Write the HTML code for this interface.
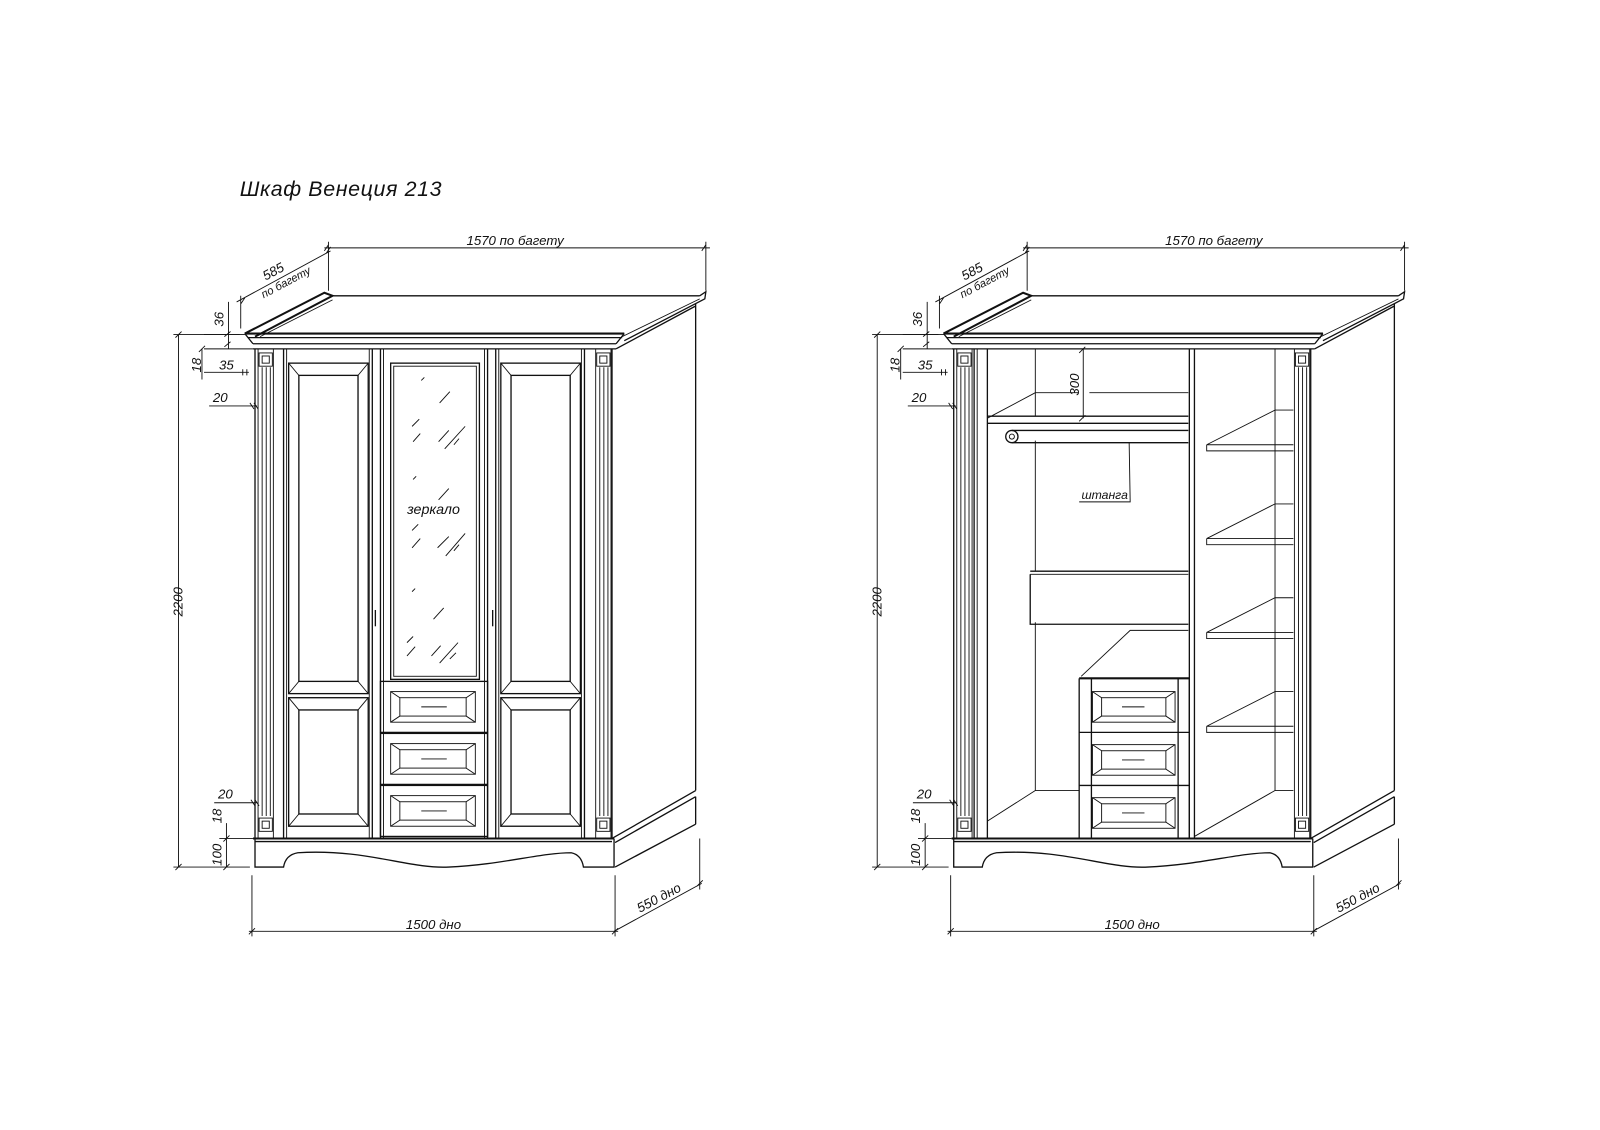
<!DOCTYPE html>
<html><head><meta charset="utf-8"><style>
html,body{margin:0;padding:0;background:#fff;}
svg{display:block;}
text{font-family:"Liberation Sans","DejaVu Sans",sans-serif;font-style:italic;fill:#111;}
.l{stroke:#111;stroke-width:1.3;fill:none;}
.t{stroke:#111;stroke-width:0.9;fill:none;}
.b{stroke:#111;stroke-width:2;fill:none;}
</style></head><body>
<svg width="1600" height="1130" viewBox="0 0 1568.6 1107.8" preserveAspectRatio="none" xmlns="http://www.w3.org/2000/svg">
<defs>
<g id="shell">
  <path class="b" d="M240,327 L318,287 L326,290 L250,330"/>
  <path class="l" d="M326,290 L686,290 M686,290 L692,286 L691,293 L612,334"/>
  <path class="t" d="M255,330 L326,294 M610,330 L686,293"/>
  <path class="b" d="M240,327 H612"/>
  <path class="l" d="M243,331 H610 M248,337 H604 M248,342 H604 M240,327 L248,337 M612,327 L604,337"/>
  <path class="l" d="M604,342 L682,300 M682,298 V775 M600,822 L682,775 M603,826 L682,781 M603,850 L682,808 M682,781 V808"/>
  <path class="l" d="M250,342 V822 M600,342 V822"/>
  <path class="t" d="M253,342 V822 M257,360 V800 M261,360 V800 M265,360 V800 M268,342 V822"/>
  <path class="t" d="M584,342 V822 M588,360 V800 M592,360 V800 M596,360 V800 M599,342 V822"/>
  <rect class="t" x="254" y="346" width="13" height="13"/><rect class="t" x="257" y="349" width="7" height="7"/>
  <rect class="t" x="585" y="346" width="13" height="13"/><rect class="t" x="588" y="349" width="7" height="7"/>
  <rect class="t" x="254" y="802" width="13" height="13"/><rect class="t" x="257" y="805" width="7" height="7"/>
  <rect class="t" x="585" y="802" width="13" height="13"/><rect class="t" x="588" y="805" width="7" height="7"/>
  <path class="b" d="M248,822 H602"/>
  <path class="l" d="M250,825 H600 M250,822 V850 H278 Q280,838 292,836 C360,832 400,852 440,850 C490,848 530,836 560,836 Q570,838 572,850 H602 V822"/>
  <path class="t" d="M322,285 V237 M692,285 V237 M318,243 H696 M322,240 L318,246 M692,240 L688,246"/>
  <path class="t" d="M236,322 V290 M232,296 L324,246 M236,298 L240,292 M320,248 L324,242"/>
  <path class="t" d="M200,328 H240 M200,342 H248 M224,296 V342 M220,330 L226,325 M220,340 L226,335"/>
  <path class="t" d="M170,328 H235 M175,328 V850 M170,850 H245 M172,331 L178,325 M172,853 L178,847"/>
  <path class="t" d="M198,342 V372 M195,345 L201,339 M200,365 H244 M238,362 V368 M242,362 V368"/>
  <path class="t" d="M205,398 H252 M245,395 L249,401 M249,395 L253,401"/>
  <path class="t" d="M210,787 H252 M246,784 L250,790 M250,784 L254,790"/>
  <path class="t" d="M222,807 V850 M215,822 H248 M219,825 L225,819 M219,853 L225,847"/>
  <path class="t" d="M247,858 V918 M603,858 V918 M244,913 H606 M244,916 L250,910 M600,916 L606,910"/>
  <path class="t" d="M686,822 V872 M602,913 L688,866 M683,869 L689,863"/>
  <text x="0" y="0" font-size="13" transform="translate(505,240)" text-anchor="middle">1570 по багету</text>
  <text x="0" y="0" font-size="13" transform="translate(270,270) rotate(-28)" text-anchor="middle">585</text>
  <text x="0" y="0" font-size="11" transform="translate(282,280) rotate(-28)" text-anchor="middle">по багету</text>
  <text x="0" y="0" font-size="13" transform="translate(219,313) rotate(-90)" text-anchor="middle">36</text>
  <text x="0" y="0" font-size="13" transform="translate(197,358) rotate(-90)" text-anchor="middle">18</text>
  <text x="222" y="362" font-size="13" text-anchor="middle">35</text>
  <text x="216" y="394" font-size="13" text-anchor="middle">20</text>
  <text x="0" y="0" font-size="13" transform="translate(179,590) rotate(-90)" text-anchor="middle">2200</text>
  <text x="221" y="783" font-size="13" text-anchor="middle">20</text>
  <text x="0" y="0" font-size="13" transform="translate(217,800) rotate(-90)" text-anchor="middle">18</text>
  <text x="0" y="0" font-size="13" transform="translate(217,838) rotate(-90)" text-anchor="middle">100</text>
  <text x="425" y="911" font-size="13" text-anchor="middle">1500 дно</text>
  <text x="0" y="0" font-size="13" transform="translate(648,884) rotate(-28)" text-anchor="middle">550 дно</text>
</g>
<g id="drawer">
  <rect class="l" x="0" y="0" width="105" height="50"/>
  <rect class="t" x="10" y="10" width="83" height="30"/>
  <rect class="t" x="19" y="16" width="65" height="18"/>
  <path class="t" d="M10,10 L19,16 M93,10 L84,16 M10,40 L19,34 M93,40 L84,34 M40,25 H65"/>
</g>
</defs>

<text x="235" y="192" font-size="21" letter-spacing="0.6">Шкаф  Венеция  213</text>

<use href="#shell"/>
<use href="#shell" transform="translate(685,0)"/>

<g>
  <path class="l" d="M278,342 V822 M365,342 V822"/>
  <path class="t" d="M281,342 V822 M362,342 V822"/>
  <rect class="l" x="283" y="356" width="78" height="324"/>
  <rect class="l" x="293" y="368" width="58" height="300"/>
  <path class="t" d="M283,356 L293,368 M361,356 L351,368 M283,680 L293,668 M361,680 L351,668"/>
  <rect class="l" x="283" y="684" width="78" height="126"/>
  <rect class="l" x="293" y="696" width="58" height="102"/>
  <path class="t" d="M283,684 L293,696 M361,684 L351,696 M283,810 L293,798 M361,810 L351,798"/>
  <path class="l" d="M368,598 V614"/>
  <path class="l" d="M486,342 V822 M573,342 V822"/>
  <path class="t" d="M489,342 V822 M570,342 V822"/>
  <rect class="l" x="491" y="356" width="78" height="324"/>
  <rect class="l" x="501" y="368" width="58" height="300"/>
  <path class="t" d="M491,356 L501,368 M569,356 L559,368 M491,680 L501,668 M569,680 L559,668"/>
  <rect class="l" x="491" y="684" width="78" height="126"/>
  <rect class="l" x="501" y="696" width="58" height="102"/>
  <path class="t" d="M491,684 L501,696 M569,684 L559,696 M491,810 L501,798 M569,810 L559,798"/>
  <path class="l" d="M483,598 V614"/>
  <path class="l" d="M373,342 V822 M478,342 V822"/>
  <path class="t" d="M376,342 V822 M475,342 V822"/>
  <rect class="l" x="383" y="356" width="87" height="310"/>
  <rect class="t" x="386" y="359" width="81" height="304"/>
  <g class="t">
    <path d="M413,373 L416,370 M431,395 L441,384 M404,418 L411,411 M405,433 L412,425 M430,433 L440,422 M436,440 L456,418 M445,436 L450,430"/>
    <path d="M405,470 L408,467 M430,490 L440,479 M404,520 L410,514 M404,537 L412,528 M429,537 L440,526 M437,545 L456,523 M445,540 L450,534"/>
    <path d="M404,580 L407,577 M425,607 L435,596 M399,630 L405,624 M399,643 L407,634 M423,643 L432,633 M431,650 L449,630 M441,646 L447,640"/>
  </g>
  <text x="425" y="504" font-size="14" text-anchor="middle">зеркало</text>
  <use href="#drawer" x="373" y="668"/>
  <use href="#drawer" x="373" y="719"/>
  <use href="#drawer" x="373" y="770"/>
</g>

<g>
  <path class="l" d="M955,342 V822 M968,342 V822"/>
  <path class="t" d="M958,342 V822"/>
  <path class="t" d="M1015,342 V408 M968,410 L1015,385 M1015,385 H1057 M1068,385 H1165 M1015,432 V560 M1015,610 V775 M968,805 L1015,775 M1015,775 H1058"/>
  <path class="l" d="M968,408 H1165 M968,415 H1165"/>
  <path class="l" d="M992,422 H1165 M992,434 H1165"/>
  <circle class="l" cx="992" cy="428" r="6"/>
  <circle class="t" cx="992" cy="428" r="2.5"/>
  <path class="t" d="M1062,342 V410 M1058,346 L1064,340 M1058,413 L1064,407"/>
  <text x="0" y="0" font-size="13" transform="translate(1058,377) rotate(-90)" text-anchor="middle">300</text>
  <path class="t" d="M1107,434 L1108,492 H1058"/>
  <text x="1083" y="489" font-size="12" text-anchor="middle">штанга</text>
  <path class="l" d="M1010,560 H1165 M1010,563 V612 H1165"/>
  <path class="t" d="M1010,563 H1165"/>
  <path class="t" d="M1060,663 L1108,618 H1165"/>
  <path class="b" d="M1058,665 H1166"/>
  <path class="l" d="M1058,665 V822 M1166,665 V822 M1070,665 V822 M1155,665 V822"/>
  <path class="l" d="M1058,718 H1166 M1058,770 H1166"/>
  <g class="t">
    <rect x="1071" y="678" width="81" height="30" class="t"/><rect x="1080" y="684" width="63" height="18" class="t"/>
    <path d="M1071,678 L1080,684 M1152,678 L1143,684 M1071,708 L1080,702 M1152,708 L1143,702 M1100,693 H1122"/>
    <rect x="1071" y="730" width="81" height="30" class="t"/><rect x="1080" y="736" width="63" height="18" class="t"/>
    <path d="M1071,730 L1080,736 M1152,730 L1143,736 M1071,760 L1080,754 M1152,760 L1143,754 M1100,745 H1122"/>
    <rect x="1071" y="782" width="81" height="30" class="t"/><rect x="1080" y="788" width="63" height="18" class="t"/>
    <path d="M1071,782 L1080,788 M1152,782 L1143,788 M1071,812 L1080,806 M1152,812 L1143,806 M1100,797 H1122"/>
  </g>
  <path class="l" d="M1166,342 V822 M1171,342 V822"/>
  <path class="t" d="M1250,342 V775 M1171,820 L1250,775 M1250,775 H1268"/>
  <g class="t">
    <path d="M1183,436 L1250,402 H1268 M1183,436 V442 H1268 M1183,436 H1268"/>
    <path d="M1183,528 L1250,494 H1268 M1183,528 V534 H1268 M1183,528 H1268"/>
    <path d="M1183,620 L1250,586 H1268 M1183,620 V626 H1268 M1183,620 H1268"/>
    <path d="M1183,712 L1250,678 H1268 M1183,712 V718 H1268 M1183,712 H1268"/>
  </g>
</g>
</svg>
</body></html>
